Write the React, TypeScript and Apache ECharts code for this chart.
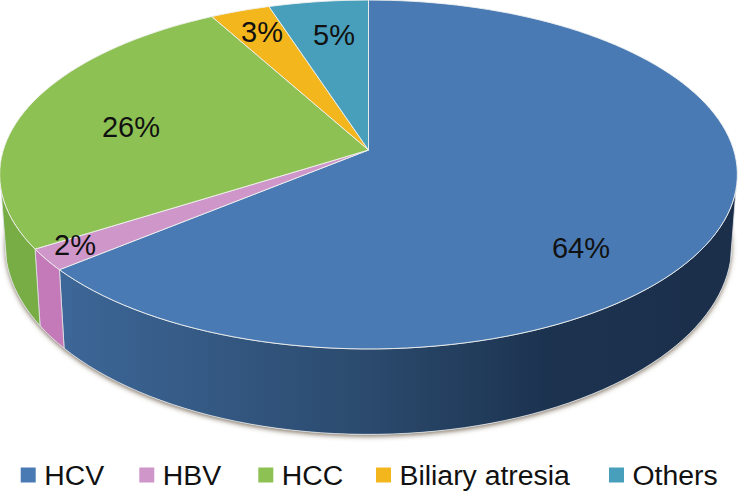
import React, { useEffect, useRef } from "react";
import * as echarts from "echarts";

const categories = ["HCV", "HBV", "HCC", "Biliary atresia", "Others"];
const values = [64, 2, 26, 3, 5];
const topColors = ["#4a7ab4", "#cf96c9", "#8ec153", "#f3b61d", "#489fbc"];
const wallColors = ["#2b4a6d", "#c47ab8", "#78ad45", "#c8960f", "#3a8199"];
const legendLeft = [20.7, 139.3, 258.3, 376, 609];
const labelPos = [[581, 248], [75, 245], [131, 127], [262, 32], [334, 35]];

const FONT = '"Liberation Sans", Arial, sans-serif';
const CX = 368.5, CY = 150, A = 365.2, B = 171, K = 0.1404;
const SCALE = 0.985, DROP = 68, B2 = 186;
const WALL_FROM = 103, WALL_TO = 257;
const rad = (d: number) => (d * Math.PI) / 180;

const topPt = (t: number) => {
  const s = Math.sin(rad(t)), c = Math.cos(rad(t)), d = 1 + K * c;
  return [CX + (A * s) / d, CY - (B * c) / d];
};
const botPt = (t: number) => {
  const s = Math.sin(rad(t)), c = Math.cos(rad(t)), d = 1 + K * c;
  return [CX + (SCALE * A * s) / d, CY + DROP - (B2 * c) / d];
};
const arc = (from: number, to: number, f: (t: number) => number[]) => {
  const pts: number[][] = [];
  const n = Math.max(1, Math.ceil((to - from) / 2));
  for (let i = 0; i <= n; i++) pts.push(f(from + ((to - from) * i) / n));
  return pts;
};

const total = values.reduce((a, b) => a + b, 0);
const startAngle = (i: number) => (values.slice(0, i).reduce((a, b) => a + b, 0) / total) * 360;

const hcvWall = {
  type: "linear", x: 0, y: 0, x2: 1, y2: 0,
  colorStops: [
    { offset: 0, color: "#3d6798" },
    { offset: 0.456, color: "#2b4a6d" },
    { offset: 0.72, color: "#1c3350" },
    { offset: 1, color: "#1b2e4a" },
  ],
};

const sliceSeries = categories.map((name, i) => ({
  type: "custom",
  name,
  coordinateSystem: "none",
  z: 2,
  silent: true,
  itemStyle: { color: topColors[i] },
  data: [[values[i]]],
  renderItem: () => {
    const a0 = startAngle(i), a1 = startAngle(i + 1);
    const children: any[] = [];
    const w0 = Math.max(a0, WALL_FROM), w1 = Math.min(a1, WALL_TO);
    if (w1 > w0) {
      children.push({
        type: "polygon",
        shape: { points: [...arc(w0, w1, topPt), ...arc(w0, w1, botPt).reverse()] },
        style: { fill: i === 0 ? hcvWall : wallColors[i], stroke: "#dfe3e4", lineWidth: 0.8 },
      });
    }
    children.push({
      type: "polygon",
      shape: { points: [[CX, CY], ...arc(a0, a1, topPt)] },
      style: { fill: topColors[i], stroke: "#eef1ee", lineWidth: 0.9 },
    });
    children.push({
      type: "text",
      z2: 100,
      style: {
        text: `${values[i]}%`,
        x: labelPos[i][0],
        y: labelPos[i][1],
        align: "center",
        verticalAlign: "middle",
        font: `29px ${FONT}`,
        fill: "#111111",
      },
    });
    return { type: "group", children };
  },
}));

const shadowSeries = {
  type: "custom",
  name: "shadow",
  coordinateSystem: "none",
  z: 1,
  silent: true,
  data: [[0]],
  renderItem: () => ({
    type: "polygon",
    shape: { points: arc(0, 360, botPt) },
    style: {
      fill: "#ffffff",
      shadowBlur: 5,
      shadowOffsetY: 2,
      shadowColor: "rgba(90,70,50,0.75)",
    },
  }),
};

export default function App() {
  const ref = useRef<HTMLDivElement>(null);
  useEffect(() => {
    document.body.style.margin = "0";
    const chart = echarts.init(ref.current!, undefined, { renderer: "svg" });
    chart.setOption({
      animation: false,
      backgroundColor: "#ffffff",
      legend: categories.map((name, i) => ({
        data: [{ name, icon: "rect" }],
        left: legendLeft[i],
        top: 461,
        padding: 0,
        itemWidth: 15,
        itemHeight: 15,
        itemGap: 0,
        selectedMode: false,
        textStyle: {
          fontFamily: FONT,
          fontSize: 28.4,
          color: "#111111",
          padding: [0, 0, 4, 3.5],
        },
      })),
      series: [shadowSeries, ...sliceSeries],
    });
    return () => chart.dispose();
  }, []);
  return <div ref={ref} style={{ width: 738, height: 493 }} />;
}
